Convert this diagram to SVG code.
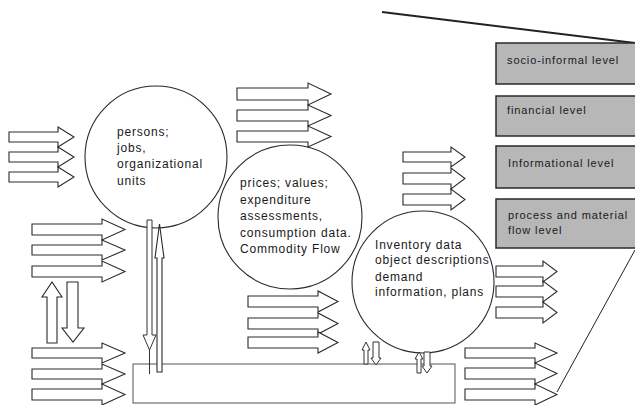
<svg xmlns="http://www.w3.org/2000/svg" width="635" height="405" viewBox="0 0 635 405">
  <style>
    .blk { fill: #fff; stroke: #2a2a2a; stroke-width: 1.1; stroke-linejoin: miter; }
    .thin { fill: #fff; stroke: #333; stroke-width: 1; }
    .ring { fill: none; stroke: #2a2a2a; stroke-width: 1.1; }
    .level { fill: #b7b7b7; stroke: #2a2a2a; stroke-width: 1.5; }
    .t { font-family: "Liberation Sans", Arial, sans-serif; font-size: 12px; letter-spacing: 0.8px; fill: #1a1a1a; }
    .lt { font-family: "Liberation Sans", Arial, sans-serif; font-size: 11px; letter-spacing: 0.9px; fill: #1a1a1a; }
    .edge { fill: none; stroke: #222; }
  </style>

  <!-- frame lines of the level stack -->
  <g id="frame">
    <line class="edge" x1="382" y1="12" x2="635" y2="43" stroke-width="2"/>
    <line class="edge" x1="635" y1="250" x2="557" y2="392" stroke-width="1"/>
  </g>

  <!-- level boxes -->
  <g id="level-socio">
    <rect class="level" x="496" y="43" width="145" height="41"/>
    <text class="lt" x="507" y="64">socio-informal level</text>
  </g>
  <g id="level-financial">
    <rect class="level" x="496" y="96" width="145" height="40"/>
    <text class="lt" x="507" y="114">financial level</text>
  </g>
  <g id="level-informational">
    <rect class="level" x="496" y="146" width="145" height="42"/>
    <text class="lt" x="508" y="167">Informational level</text>
  </g>
  <g id="level-process">
    <rect class="level" x="496" y="199" width="145" height="49"/>
    <text class="lt" x="508" y="219">process and material</text>
    <text class="lt" x="508" y="234">flow level</text>
  </g>

  <!-- base bar -->
  <g id="base">
    <rect x="133" y="364" width="322" height="39" fill="none" stroke="#555" stroke-width="1"/>
  </g>

  <!-- circles -->
  <g id="node-persons">
    <circle class="ring" cx="156" cy="157" r="71"/>
    <text class="t" x="117" y="136">persons;</text>
    <text class="t" x="117" y="152">jobs,</text>
    <text class="t" x="117" y="168">organizational</text>
    <text class="t" x="117" y="185">units</text>
  </g>
  <g id="node-prices">
    <circle class="ring" cx="290" cy="217" r="72"/>
    <text class="t" x="240" y="187">prices; values;</text>
    <text class="t" x="240" y="204">expenditure</text>
    <text class="t" x="240" y="220">assessments,</text>
    <text class="t" x="240" y="237">consumption data.</text>
    <text class="t" x="240" y="253">Commodity Flow</text>
  </g>
  <g id="node-inventory">
    <circle class="ring" cx="423" cy="282" r="71"/>
    <text class="t" x="375" y="249">Inventory data</text>
    <text class="t" x="375" y="264">object descriptions</text>
    <text class="t" x="375" y="281">demand</text>
    <text class="t" x="375" y="296">information, plans</text>
  </g>

  <!-- flow arrows -->
  <g id="connectors">
    <!-- left top group -->
    <polygon class="blk" points="9,132 58,132 58,127 74,137 58,147 58,142 9,142"/>
    <polygon class="blk" points="9,152 58,152 58,147 74,157 58,167 58,162 9,162"/>
    <polygon class="blk" points="9,172 58,172 58,167 74,177 58,187 58,182 9,182"/>
    <!-- left middle group -->
    <polygon class="blk" points="32,224 102,224 102,219 125,229.5 102,240 102,235 32,235"/>
    <polygon class="blk" points="32,245 102,245 102,240 125,250 102,260 102,255 32,255"/>
    <polygon class="blk" points="32,266 102,266 102,261 125,271.5 102,282 102,277 32,277"/>
    <!-- left bottom group -->
    <polygon class="blk" points="32,348 102,348 102,343 125,353 102,363 102,358 32,358"/>
    <polygon class="blk" points="32,369 102,369 102,364 125,374 102,384 102,379 32,379"/>
    <polygon class="blk" points="32,389 102,389 102,384 125,394.5 102,405 102,400 32,400"/>
    <!-- top middle group -->
    <polygon class="blk" points="237,88 308,88 308,83 331,94 308,105 308,100 237,100"/>
    <polygon class="blk" points="237,110 308,110 308,105 331,115.5 308,126 308,121 237,121"/>
    <polygon class="blk" points="237,131 308,131 308,126 331,136.5 308,147 308,142 237,142"/>
    <!-- upper right group -->
    <polygon class="blk" points="403,152 451,152 451,147 465,157 451,167 451,162 403,162"/>
    <polygon class="blk" points="403,173 451,173 451,168 465,178.5 451,189 451,184 403,184"/>
    <polygon class="blk" points="403,194 451,194 451,189 465,199.5 451,210 451,205 403,205"/>
    <!-- centre bottom group -->
    <polygon class="blk" points="248,296 318,296 318,291 338,301.5 318,312 318,307 248,307"/>
    <polygon class="blk" points="248,318 318,318 318,313 338,323.5 318,334 318,329 248,329"/>
    <polygon class="blk" points="248,337 318,337 318,332 338,342.5 318,353 318,348 248,348"/>
    <!-- right of inventory circle -->
    <polygon class="blk" points="496,266 543,266 543,261 557,271.5 543,282 543,277 496,277"/>
    <polygon class="blk" points="496,286 543,286 543,281 557,291.5 543,302 543,297 496,297"/>
    <polygon class="blk" points="496,307 543,307 543,302 557,312.5 543,323 543,318 496,318"/>
    <!-- right bottom group -->
    <polygon class="blk" points="465,348 535,348 535,343 557,353 535,363 535,358 465,358"/>
    <polygon class="blk" points="465,368 535,368 535,363 557,373.5 535,384 535,379 465,379"/>
    <polygon class="blk" points="465,389 535,389 535,384 557,394.5 535,405 535,400 465,400"/>

    <!-- up / down pair between left groups -->
    <polygon class="blk" points="47,343 57,343 57,297 62,297 52,282 42,297 47,297"/>
    <polygon class="blk" points="67,282 78,282 78,328 84,328 73,342 62,328 67,328"/>

    <!-- long pair from persons circle down to the base -->
    <polygon class="thin" points="147,220 152,220 152,335 156,335 149.5,350 143,335 147,335"/>
    <line x1="149.5" y1="350" x2="149.5" y2="374" stroke="#333" stroke-width="1"/>
    <polygon class="blk" points="157,372 162,372 162,258 164,258 159.5,224 155,258 157,258" stroke="#111"/>

    <!-- short pairs at the inventory circle -->
    <polygon class="thin" points="364,364 368,364 368,350 370,350 366,342 362,350 364,350"/>
    <polygon class="thin" points="373,342 379,342 379,358 381,358 376,365 371,358 373,358"/>
    <polygon class="thin" points="417,373 421,373 421,359 423,359 419,352 415,359 417,359"/>
    <polygon class="thin" points="424,352 430,352 430,366 432,366 427,373 422,366 424,366"/>
  </g>
</svg>
